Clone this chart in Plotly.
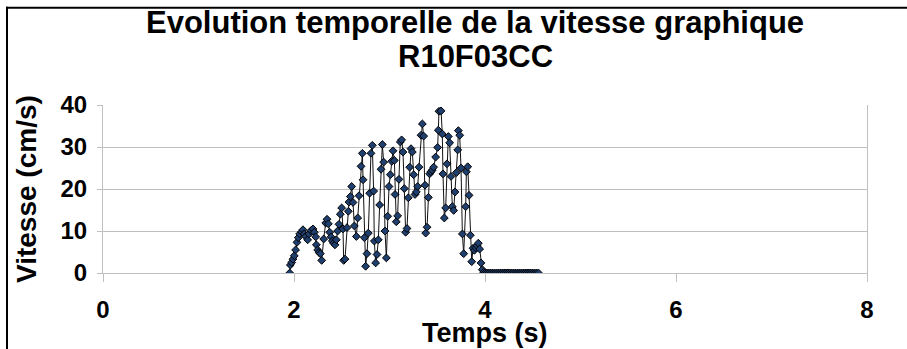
import plotly.graph_objects as go

# Données
temps = [
    1.955, 1.962, 1.976, 1.989, 2.003, 2.017, 2.031, 2.045, 2.059, 2.080,
    2.094, 2.108, 2.122, 2.143, 2.157, 2.178, 2.199, 2.213, 2.227, 2.234,
    2.248, 2.262, 2.276, 2.290, 2.311, 2.332, 2.346, 2.360, 2.374, 2.388,
    2.401, 2.415, 2.429, 2.443, 2.457, 2.471, 2.485, 2.499, 2.513, 2.520,
    2.534, 2.555, 2.569, 2.576, 2.590, 2.604, 2.618, 2.632, 2.653, 2.667,
    2.681, 2.702, 2.716, 2.723, 2.737, 2.750, 2.764, 2.778, 2.792, 2.806,
    2.820, 2.834, 2.841, 2.855, 2.869, 2.883, 2.897, 2.911, 2.925, 2.939,
    2.953, 2.967, 2.981, 2.995, 3.009, 3.023, 3.037, 3.051, 3.058, 3.071,
    3.085, 3.099, 3.113, 3.127, 3.141, 3.155, 3.169, 3.183, 3.197, 3.211,
    3.225, 3.239, 3.253, 3.267, 3.281, 3.295, 3.309, 3.330, 3.344, 3.358,
    3.372, 3.379, 3.393, 3.407, 3.420, 3.434, 3.448, 3.462, 3.483, 3.504,
    3.511, 3.518, 3.540, 3.553, 3.560, 3.574, 3.588, 3.602, 3.616, 3.630,
    3.644, 3.658, 3.672, 3.686, 3.700, 3.714, 3.721, 3.735, 3.749, 3.763,
    3.777, 3.798, 3.805, 3.819, 3.833, 3.847, 3.861, 3.875, 3.889, 3.903,
    3.917, 3.930, 3.944, 3.958, 3.972, 3.986,
    4.00, 4.02, 4.04, 4.06, 4.08, 4.10, 4.12, 4.14, 4.16, 4.18,
    4.20, 4.22, 4.24, 4.26, 4.28, 4.30, 4.32, 4.34, 4.36, 4.38,
    4.40, 4.42, 4.44, 4.46, 4.48, 4.50, 4.52, 4.54, 4.56,
]
vitesse = [
    0.0, 1.9, 2.5, 3.3, 4.1, 5.5, 7.3, 8.4, 9.3, 9.8,
    10.3, 9.3, 8.7, 7.9, 9.3, 10.1, 10.5, 9.7, 8.6, 6.7,
    5.5, 4.9, 4.6, 3.0, 8.1, 11.9, 12.8, 11.7, 9.7, 8.6,
    7.6, 7.1, 6.7, 7.9, 10.0, 11.6, 14.0, 15.5, 10.5, 3.0,
    3.3, 10.8, 14.7, 16.9, 18.2, 20.6, 16.8, 11.2, 8.7, 13.1,
    18.4, 25.4, 28.5, 22.2, 8.4, 1.6, 4.6, 9.5, 19.0, 28.5,
    30.4, 19.5, 7.6, 2.4, 4.4, 7.9, 16.2, 24.7, 30.6, 26.4,
    10.0, 3.6, 13.5, 20.6, 23.4, 26.6, 29.1, 26.8, 18.7, 12.2,
    13.6, 22.3, 31.2, 31.7, 28.8, 20.1, 9.7, 10.6, 17.9, 25.2,
    29.6, 28.8, 23.4, 18.7, 19.3, 20.6, 25.2, 32.8, 35.5, 32.6,
    20.9, 9.5, 10.9, 18.0, 23.6, 24.1, 24.5, 25.2, 27.6, 29.9,
    34.0, 38.5, 38.6, 33.1, 23.6, 13.1, 15.5, 26.0, 32.5, 31.0,
    23.0, 15.8, 14.9, 19.3, 23.9, 29.3, 33.9, 32.8, 25.0, 9.3,
    4.6, 15.8, 24.1, 25.3, 18.5, 9.0, 2.7, 5.9, 5.4, 6.0,
    6.5, 7.1, 5.7, 2.4, 0.8, 0.2,
    0, 0, 0, 0, 0, 0, 0, 0, 0, 0,
    0, 0, 0, 0, 0, 0, 0, 0, 0, 0,
    0, 0, 0, 0, 0, 0, 0, 0, 0,
]
ticks_x = [0, 2, 4, 6, 8]
ticks_y = [0, 10, 20, 30, 40]
titre = ["Evolution temporelle de la vitesse graphique", "R10F03CC"]

police = "Liberation Sans, Arial, sans-serif"

fig = go.Figure()
fig.add_trace(go.Scatter(
    x=temps, y=vitesse, mode="lines+markers",
    line=dict(color="#111111", width=1),
    marker=dict(symbol="diamond", size=6, color="#1F3F6E",
                line=dict(color="black", width=1)),
    showlegend=False,
))

fig.update_layout(
    width=907, height=349,
    margin=dict(l=103, r=40, t=105, b=76),
    paper_bgcolor="white", plot_bgcolor="white",
    font=dict(family=police, color="black"),
    xaxis=dict(
        range=[0, 8], tickvals=ticks_x,
        ticktext=["<b>%d</b>" % v for v in ticks_x],
        showgrid=False, zeroline=False,
        showline=True, linecolor="#BFBFBF", linewidth=1,
        ticks="outside", ticklen=8, tickcolor="#BFBFBF", ticklabelstandoff=7,
        tickfont=dict(size=24, family=police, color="black"),
    ),
    yaxis=dict(
        range=[0, 40], tickvals=ticks_y,
        ticktext=["<b>%d</b>" % v for v in ticks_y],
        showgrid=True, gridcolor="#BFBFBF",
        zeroline=False, showline=True, linecolor="#BFBFBF", linewidth=1,
        mirror=True,
        ticks="outside", ticklen=5, tickcolor="#BFBFBF", ticklabelstandoff=5,
        tickfont=dict(size=24, family=police, color="black"),
    ),
)

# titre sur deux lignes
for ligne, py in zip(titre, [22, 56]):
    fig.add_annotation(text="<b>" + ligne + "</b>", showarrow=False,
                       xref="paper", yref="paper",
                       x=(475 - 103) / 764, y=(273.3 - py) / 168.3,
                       xanchor="center", yanchor="middle",
                       font=dict(size=31, family=police, color="black"))

# titres des axes
fig.add_annotation(text="<b>Temps (s)</b>", showarrow=False,
                   xref="paper", yref="paper", x=0.5, y=(273.3 - 333) / 168.3,
                   xanchor="center", yanchor="middle",
                   font=dict(size=27, family=police, color="black"))
fig.add_annotation(text="<b>Vitesse (cm/s)</b>", showarrow=False, textangle=-90,
                   xref="paper", yref="paper", x=(26 - 103) / 764, y=0.5,
                   xanchor="center", yanchor="middle",
                   font=dict(size=28, family=police, color="black"))

# cadre du graphique (haut et gauche visibles)
fig.add_shape(type="line", xref="paper", yref="paper",
              x0=(6 - 103) / 764, x1=(910 - 103) / 764,
              y0=(273.3 - 7.5) / 168.3, y1=(273.3 - 7.5) / 168.3,
              line=dict(color="black", width=2))
fig.add_shape(type="line", xref="paper", yref="paper",
              x0=(7 - 103) / 764, x1=(7 - 103) / 764,
              y0=(273.3 - 6.5) / 168.3, y1=(273.3 - 352) / 168.3,
              line=dict(color="black", width=2))

fig.write_html("out.html", config={"displayModeBar": False},
               post_script="document.body.style.margin='0';")
